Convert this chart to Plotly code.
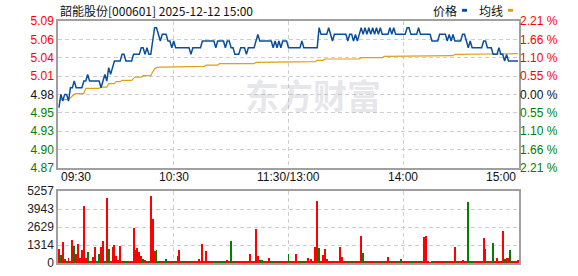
import plotly.graph_objects as go

title_text = "韶能股份[000601] 2025-12-12 15:00"
prev_close = 4.98

price = [
    4.96, 4.98, 4.97, 4.98, 4.98, 4.97, 4.99, 4.99, 5.00, 4.99,
    4.99, 4.99, 4.99, 5.00, 5.00, 5.01, 5.00, 5.00, 5.00, 5.00,
    5.00, 5.00, 4.99, 5.00, 5.01, 5.00, 5.02, 5.01, 5.02, 5.03,
    5.03, 5.03, 5.03, 5.04, 5.04, 5.03, 5.03, 5.03, 5.03, 5.04,
    5.04, 5.04, 5.04, 5.05, 5.05, 5.04, 5.05, 5.04, 5.04, 5.06,
    5.08, 5.08, 5.07, 5.06, 5.07, 5.07, 5.07, 5.06, 5.06, 5.05,
    5.06, 5.05, 5.05, 5.05, 5.05, 5.05, 5.05, 5.05, 5.05, 5.04,
    5.05, 5.05, 5.05, 5.05, 5.05, 5.06, 5.06, 5.06, 5.06, 5.06,
    5.06, 5.06, 5.05, 5.06, 5.06, 5.06, 5.06, 5.05, 5.06, 5.06,
    5.05, 5.05, 5.04, 5.04, 5.04, 5.05, 5.05, 5.05, 5.04, 5.05,
    5.05, 5.05, 5.05, 5.06, 5.07, 5.06, 5.06, 5.06, 5.06, 5.06,
    5.06, 5.06, 5.05, 5.06, 5.05, 5.06, 5.05, 5.06, 5.06, 5.06,
    5.05, 5.05, 5.05, 5.05, 5.05, 5.05, 5.05, 5.06, 5.05, 5.05,
    5.05, 5.05, 5.05, 5.05, 5.05, 5.05, 5.08, 5.07, 5.07, 5.07,
    5.07, 5.08, 5.07, 5.06, 5.07, 5.07, 5.07, 5.07, 5.07, 5.07,
    5.07, 5.06, 5.07, 5.07, 5.06, 5.07, 5.06, 5.07, 5.08, 5.07,
    5.08, 5.07, 5.08, 5.07, 5.08, 5.07, 5.08, 5.07, 5.08, 5.07,
    5.07, 5.07, 5.07, 5.08, 5.07, 5.08, 5.07, 5.07, 5.07, 5.07,
    5.07, 5.07, 5.08, 5.08, 5.07, 5.07, 5.07, 5.07, 5.08, 5.07,
    5.07, 5.07, 5.07, 5.07, 5.07, 5.06, 5.06, 5.06, 5.06, 5.07,
    5.07, 5.07, 5.07, 5.06, 5.07, 5.06, 5.07, 5.06, 5.06, 5.06,
    5.06, 5.07, 5.07, 5.06, 5.05, 5.06, 5.05, 5.05, 5.05, 5.05,
    5.05, 5.05, 5.06, 5.06, 5.05, 5.05, 5.05, 5.04, 5.04, 5.04,
    5.05, 5.04, 5.04, 5.03, 5.04, 5.03, 5.03, 5.03, 5.03, 5.03,
    5.03,
]

avg_price = [
    4.970, 4.972, 4.972, 4.972, 4.972, 4.972, 4.975, 4.978, 4.980, 4.981,
    4.981, 4.981, 4.981, 4.981, 4.989, 4.989, 4.989, 4.989, 4.989, 4.989,
    4.989, 4.989, 4.991, 4.991, 4.991, 4.991, 4.996, 4.996, 4.996, 4.996,
    4.999, 4.999, 4.999, 5.001, 5.001, 5.001, 5.001, 5.001, 5.001, 5.004,
    5.006, 5.006, 5.006, 5.006, 5.008, 5.008, 5.008, 5.008, 5.008, 5.014,
    5.018, 5.020, 5.021, 5.021, 5.021, 5.021, 5.021, 5.021, 5.021, 5.021,
    5.021, 5.021, 5.022, 5.022, 5.022, 5.022, 5.022, 5.022, 5.022, 5.022,
    5.022, 5.022, 5.022, 5.022, 5.022, 5.022, 5.022, 5.024, 5.024, 5.024,
    5.024, 5.024, 5.024, 5.024, 5.026, 5.026, 5.026, 5.026, 5.026, 5.026,
    5.026, 5.026, 5.026, 5.026, 5.026, 5.026, 5.026, 5.026, 5.026, 5.026,
    5.026, 5.026, 5.026, 5.028, 5.028, 5.028, 5.028, 5.028, 5.028, 5.028,
    5.028, 5.028, 5.028, 5.028, 5.028, 5.028, 5.028, 5.028, 5.028, 5.028,
    5.028, 5.028, 5.028, 5.028, 5.028, 5.028, 5.028, 5.028, 5.028, 5.028,
    5.028, 5.028, 5.029, 5.029, 5.029, 5.031, 5.031, 5.031, 5.031, 5.033,
    5.033, 5.033, 5.033, 5.033, 5.033, 5.033, 5.033, 5.033, 5.033, 5.033,
    5.033, 5.033, 5.033, 5.033, 5.033, 5.033, 5.033, 5.033, 5.035, 5.035,
    5.035, 5.035, 5.035, 5.035, 5.035, 5.035, 5.035, 5.035, 5.035, 5.035,
    5.037, 5.037, 5.037, 5.037, 5.037, 5.037, 5.037, 5.037, 5.037, 5.037,
    5.037, 5.037, 5.037, 5.037, 5.037, 5.037, 5.037, 5.038, 5.038, 5.038,
    5.038, 5.038, 5.038, 5.038, 5.038, 5.038, 5.038, 5.038, 5.038, 5.038,
    5.038, 5.038, 5.038, 5.038, 5.038, 5.038, 5.038, 5.040, 5.040, 5.040,
    5.040, 5.040, 5.040, 5.040, 5.041, 5.041, 5.041, 5.041, 5.041, 5.041,
    5.041, 5.041, 5.041, 5.041, 5.041, 5.041, 5.041, 5.041, 5.041, 5.041,
    5.041, 5.041, 5.041, 5.041, 5.041, 5.041, 5.041, 5.041, 5.041, 5.041,
    5.041,
]

volume = [
    1020, 550, 1500, 310, 70, 360, 70, 1670, 1260, 670,
    1380, 380, 950, 4140, 380, 810, 170, 120, 450, 1140,
    70, 670, 1140, 1570, 70, 4780, 1020, 70, 1140, 1290,
    500, 210, 1210, 140, 70, 70, 70, 70, 70, 2520,
    950, 1100, 810, 500, 310, 210, 70, 140, 4860, 3210,
    880, 930, 70, 70, 70, 70, 310, 70, 70, 70,
    70, 70, 500, 930, 70, 70, 70, 70, 70, 70,
    140, 70, 70, 290, 70, 1360, 70, 860, 70, 70,
    140, 70, 70, 70, 70, 70, 70, 70, 210, 70,
    1570, 70, 140, 70, 70, 70, 70, 140, 70, 70,
    640, 70, 70, 2500, 500, 210, 210, 70, 70, 70,
    360, 70, 70, 70, 70, 70, 70, 70, 70, 70,
    640, 70, 70, 70, 640, 70, 70, 70, 70, 70,
    360, 70, 290, 70, 1140, 4500, 1070, 70, 570, 1000,
    290, 140, 70, 70, 70, 70, 70, 1140, 430, 70,
    70, 70, 70, 70, 70, 70, 70, 140, 2000, 710,
    70, 70, 70, 70, 70, 70, 70, 70, 70, 70,
    70, 70, 430, 70, 70, 70, 70, 70, 70, 290,
    70, 70, 70, 70, 70, 70, 70, 70, 70, 70,
    70, 1930, 2000, 70, 30, 70, 70, 70, 70, 70,
    70, 70, 70, 70, 70, 70, 70, 1140, 70, 70,
    70, 210, 70, 70, 4430, 70, 70, 70, 70, 70,
    70, 70, 1790, 1000, 70, 140, 70, 1430, 70, 360,
    70, 70, 2360, 290, 360, 360, 930, 70, 70, 70,
    210,
]

# r = up (red), g = down (green)
volume_dir = list(
    "rgrrgrrrgr" "rrrrrgrgrr" "ggrrgrgrrr" "rrrrggrrrr" "rrrrgrrgrr"
    "rggrrggrrr" "grrrrgrrrg" "rrrrrrrrrr" "rggrgrggrr" "grgrrrrrrr"
    "rrrrrggrrr" "rggrrgrrrr" "grrrrrgrgr" "rrrrrrgrrr" "rrrrrrrrrr"
    "rgrggrrrrg" "rgrrrrgrrg" "rrrgrrgrrg" "rrrrggrrgr" "rrrrrgrrrr"
    "rrrgrrrrgr" "rrrrgggrrr" "rrrrgrrgrr" "rrrgrrgrrr" "r"
)

time_ticks = [0, 60, 120, 180, 240]
time_labels = ["09:30", "10:30", "11:30/13:00", "14:00", "15:00"]
price_ticks = [5.09, 5.0625, 5.035, 5.0075, 4.98, 4.9525, 4.925, 4.8975, 4.87]
price_labels = ["5.09", "5.06", "5.04", "5.01", "4.98", "4.95", "4.93", "4.90", "4.87"]
pct_labels = ["2.21 %", "1.66 %", "1.10 %", "0.55 %", "0.00 %",
              "0.55 %", "1.10 %", "1.66 %", "2.21 %"]
vol_ticks = [0, 1314, 2629, 3943, 5257]

RED = "#ff0000"
GREEN = "#008000"
DARK = "#111111"
BLUE = "#0a4f9e"
GOLD = "#e0a010"
GRID = "#cfcfcf"
BORDER = "#a0a0a0"
FONT = "Liberation Sans, Arial, sans-serif"
CJK = "Noto Sans CJK SC, sans-serif"


def tick_color(v):
    if abs(v - prev_close) < 1e-9:
        return DARK
    return RED if v > prev_close else GREEN


left_text = [f"<span style='color:{tick_color(v)}'>{t}</span>" for v, t in zip(price_ticks, price_labels)]
right_text = [f"<span style='color:{tick_color(v)}'>{t}</span>" for v, t in zip(price_ticks, pct_labels)]

minutes = list(range(len(price)))
bar_colors = [RED if d == "r" else GREEN for d in volume_dir]

fig = go.Figure()
fig.add_trace(go.Scatter(x=minutes, y=avg_price, mode="lines", xaxis="x", yaxis="y",
                         line=dict(color=GOLD, width=1.2), hoverinfo="skip", showlegend=False))
fig.add_trace(go.Scatter(x=minutes, y=price, mode="lines", xaxis="x", yaxis="y",
                         line=dict(color=BLUE, width=1.5), hoverinfo="skip", showlegend=False))
fig.add_trace(go.Scatter(x=[minutes[0]], y=[prev_close], mode="markers", xaxis="x", yaxis="y3",
                         marker=dict(opacity=0), hoverinfo="skip", showlegend=False))
fig.add_trace(go.Bar(x=minutes, y=volume, xaxis="x2", yaxis="y2", width=0.5,
                     marker=dict(color=bar_colors, line=dict(width=0)),
                     hoverinfo="skip", showlegend=False))

xr = [-0.5, len(price) - 0.5]
grid_dash = "4px,3px"
axis_common = dict(showline=True, mirror=True, linecolor=BORDER, linewidth=1.5,
                   zeroline=False, ticks="", showgrid=True, gridcolor=GRID,
                   griddash=grid_dash, gridwidth=1)

price_dom = [(270 - 172) / 249, 1]
vol_dom = [0, (270 - 196) / 249]

fig.update_layout(
    width=578, height=276, autosize=False,
    margin=dict(l=58, r=59, t=21, b=6),
    paper_bgcolor="white", plot_bgcolor="white",
    font=dict(family=FONT, size=12, color=DARK),
    xaxis=dict(domain=[0, 1], anchor="y", range=xr, tickvals=time_ticks[1:-1],
               showticklabels=False, **axis_common),
    yaxis=dict(domain=price_dom, anchor="x", range=[price_ticks[-1], price_ticks[0]],
               tickvals=price_ticks, ticktext=left_text, tickfont=dict(size=12, family=FONT),
               **axis_common),
    yaxis3=dict(overlaying="y", side="right", anchor="x", range=[price_ticks[-1], price_ticks[0]],
                tickvals=price_ticks, ticktext=right_text, tickfont=dict(size=12, family=FONT),
                showgrid=False, zeroline=False, ticks="", showline=False),
    xaxis2=dict(domain=[0, 1], anchor="y2", range=xr, tickvals=time_ticks[1:-1],
                showticklabels=False, **axis_common),
    yaxis2=dict(domain=vol_dom, anchor="x2", range=[vol_ticks[0], vol_ticks[-1]],
                tickvals=vol_ticks, ticktext=[str(v) for v in vol_ticks],
                tickfont=dict(size=12, family=FONT, color="#222222"), **axis_common),
    bargap=0,
)

annotations = []
# title
annotations.append(dict(text=title_text, xref="paper", yref="paper", x=0, y=1 + (21 - 10) / 249,
                        xanchor="left", yanchor="middle", showarrow=False,
                        font=dict(family=CJK, size=12, color="#111111")))
# time labels
for i, (t, lab) in enumerate(zip(time_ticks, time_labels)):
    anchor = "left" if i == 0 else ("right" if i == len(time_ticks) - 1 else "center")
    annotations.append(dict(text=lab, xref="x", yref="paper", x=t, y=(270 - 182) / 249,
                            xanchor=anchor, yanchor="middle", showarrow=False,
                            font=dict(family=FONT, size=12, color="#111111")))
# legend labels
annotations.append(dict(text="价格", xref="paper", yref="paper", x=(431 - 58) / 461, y=1 + (21 - 10) / 249,
                        xanchor="left", yanchor="middle", showarrow=False,
                        font=dict(family=CJK, size=12, color="#111111")))
annotations.append(dict(text="均线", xref="paper", yref="paper", x=(477 - 58) / 461, y=1 + (21 - 10) / 249,
                        xanchor="left", yanchor="middle", showarrow=False,
                        font=dict(family=CJK, size=12, color="#111111")))
# watermark
annotations.append(dict(text="<b>东方财富</b>", xref="paper", yref="paper", x=(313 - 58) / 461,
                        y=(270 - 97) / 249, xanchor="center", yanchor="middle", showarrow=False,
                        font=dict(family=CJK, size=34, color="rgba(170,170,185,0.3)")))
fig.update_layout(annotations=annotations)

fig.update_layout(shapes=[
    dict(type="rect", xref="paper", yref="paper",
         x0=(462 - 58) / 461, x1=(467 - 58) / 461,
         y0=1 + (21 - 11.5) / 249, y1=1 + (21 - 8.5) / 249,
         fillcolor=BLUE, line=dict(width=0)),
    dict(type="rect", xref="paper", yref="paper",
         x0=(508 - 58) / 461, x1=(513 - 58) / 461,
         y0=1 + (21 - 11.5) / 249, y1=1 + (21 - 8.5) / 249,
         fillcolor=GOLD, line=dict(width=0)),
])

fig.write_html("out.html")
